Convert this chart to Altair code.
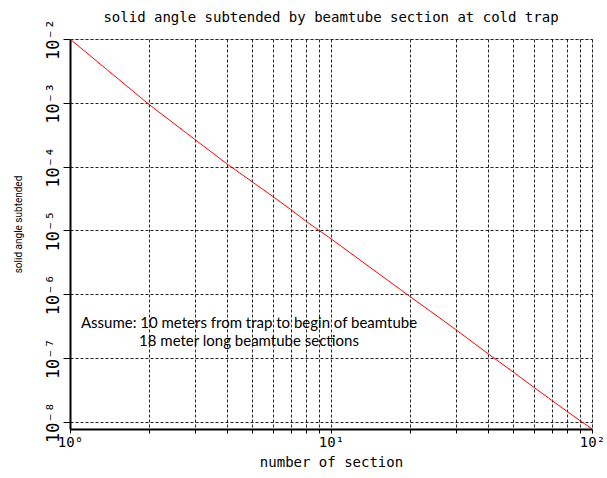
import altair as alt
import pandas as pd

# number of section
sections = [1, 2, 3, 4, 5, 6, 7, 8, 9, 10, 20, 30, 40, 50, 60, 70, 80, 90, 100]
# solid angle subtended
solid_angle = [1.0e-2, 9.55e-4, 2.69e-4, 1.10e-4, 5.75e-5, 3.39e-5, 2.14e-5, 1.41e-5,
               1.0e-5, 7.41e-6, 9.33e-7, 2.82e-7, 1.17e-7, 6.03e-8, 3.47e-8, 2.19e-8,
               1.48e-8, 1.05e-8, 7.76e-9]

x_ticks = [1, 2, 3, 4, 5, 6, 7, 8, 9, 10, 20, 30, 40, 50, 60, 70, 80, 90, 100]
y_ticks = [1e-8, 1e-7, 1e-6, 1e-5, 1e-4, 1e-3, 1e-2]

note_lines = ["Assume: 10 meters from trap to begin of beamtube",
              "18 meter long beamtube sections"]

df = pd.DataFrame({"n": sections, "omega": solid_angle})
note_df = pd.DataFrame({"note": ["\n".join(note_lines)]})

MONO = "DejaVu Sans Mono"

x_enc = alt.X(
    "n:Q",
    scale=alt.Scale(type="log", domain=[1, 100], nice=False),
    axis=alt.Axis(
        values=x_ticks,
        labelExpr="datum.value == 1 ? '10⁰' : datum.value == 10 ? '10¹' : datum.value == 100 ? '10²' : ''",
        title="number of section",
        titleFont=MONO, titleFontSize=14, titleFontWeight="normal", titleColor="black",
        titlePadding=6,
        labelFont=MONO, labelFontSize=14, labelColor="black", labelFlush=False,
        labelPadding=2, labelOverlap=False,
        tickSize=4, tickColor="black", tickWidth=1,
        domainColor="black", domainWidth=2,
        grid=True, gridColor="black", gridDash=[3, 2], gridWidth=1, gridOpacity=0.85,
    ),
)
y_enc = alt.Y(
    "omega:Q",
    scale=alt.Scale(type="log", domain=[7.76e-9, 1e-2], nice=False),
    axis=alt.Axis(
        values=y_ticks,
        labelExpr="'10' + ['⁻⁸','⁻⁷','⁻⁶','⁻⁵','⁻⁴','⁻³','⁻²'][round(log(datum.value)/LN10) + 8]",
        title="solid angle subtended",
        titleFont="Roboto", titleFontSize=10, titleFontWeight="normal",
        titleColor="black", titleAngle=270, titleX=-52, titleY=185,
        titleAlign="center", titleBaseline="middle",
        labelFont=MONO, labelFontSize=17, labelColor="black", labelAngle=270,
        labelAlign="center", labelBaseline="bottom", labelPadding=1, labelOverlap=False,
        tickSize=7, tickColor="black", tickWidth=1,
        domainColor="black", domainWidth=2,
        grid=True, gridColor="black", gridDash=[3, 2], gridWidth=1, gridOpacity=0.85,
    ),
)

line = alt.Chart(df).mark_line(color="#ff0000", strokeWidth=1, clip=True).encode(x=x_enc, y=y_enc)

note = alt.Chart(note_df).mark_text(
    font="Lato", fontSize=15, color="black", align="center", baseline="middle",
    lineBreak="\n", lineHeight=18,
).encode(text="note:N", x=alt.value(179), y=alt.value(284))

chart = alt.layer(line, note).properties(
    width=522,
    height=390,
    autosize=alt.AutoSizeParams(type="none"),
    padding={"left": 70, "top": 39, "right": 15, "bottom": 49},
    title=alt.TitleParams(
        "solid angle subtended by beamtube section at cold trap",
        font=MONO, fontSize=14, fontWeight="normal", color="black",
        anchor="middle", frame="group", offset=-6,
    ),
).configure_view(stroke="#555555", strokeWidth=2).configure(background="white")

chart.save("out.html", embed_options={"renderer": "svg", "actions": False})
